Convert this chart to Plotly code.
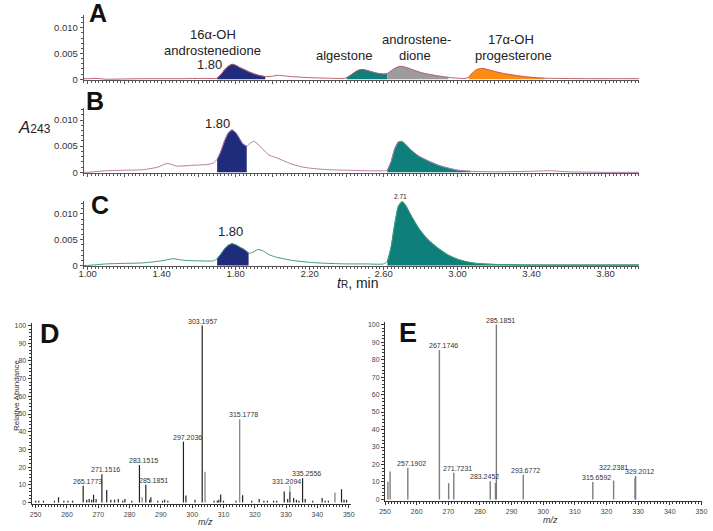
import plotly.graph_objects as go

W, H = 713, 531

# ---------------- Data: chromatograms (time in min, absorbance in units of 0.001) ----------------
tA = [0.98, 1.00, 1.05, 1.10, 1.20, 1.30, 1.40, 1.50, 1.60, 1.65, 1.70, 1.72, 1.74, 1.76, 1.78, 1.80, 1.82, 1.85,
      1.88, 1.92, 1.96, 2.00, 2.03, 2.06, 2.10, 2.15, 2.20, 2.30, 2.38, 2.40, 2.43, 2.46, 2.48, 2.50, 2.53, 2.56,
      2.60, 2.62, 2.64, 2.66, 2.69, 2.72, 2.76, 2.80, 2.85, 2.90, 2.95, 3.00, 3.04, 3.06, 3.08, 3.10, 3.13, 3.16,
      3.20, 3.25, 3.30, 3.36, 3.42, 3.47, 3.55, 3.70, 3.85, 3.98]
aA = [0.10, 0.10, 0.15, 0.00, 0.05, 0.10, 0.10, 0.10, 0.15, 0.15, 0.20, 0.90, 1.80, 2.50, 2.90, 2.70, 2.30, 1.80,
      1.30, 0.80, 0.50, 0.60, 0.75, 0.65, 0.50, 0.40, 0.30, 0.20, 0.15, 0.30, 1.00, 1.70, 1.90, 1.80, 1.50, 1.20,
      1.00, 1.10, 1.60, 2.10, 2.50, 2.30, 1.80, 1.30, 0.90, 0.60, 0.35, 0.20, 0.15, 0.40, 1.20, 1.80, 2.10, 1.90,
      1.50, 1.10, 0.80, 0.50, 0.30, 0.20, 0.15, 0.10, 0.10, 0.10]

tB = [0.98, 1.00, 1.10, 1.20, 1.30, 1.38, 1.43, 1.48, 1.55, 1.60, 1.65, 1.68, 1.70, 1.72, 1.74, 1.76, 1.78, 1.80,
      1.82, 1.84, 1.86, 1.88, 1.90, 1.92, 1.95, 1.98, 2.02, 2.06, 2.10, 2.15, 2.20, 2.30, 2.40, 2.50, 2.60, 2.62,
      2.64, 2.66, 2.68, 2.70, 2.72, 2.75, 2.79, 2.84, 2.90, 2.95, 3.00, 3.07, 3.20, 3.40, 3.50, 3.60, 3.80, 3.98]
aB = [0.00, 0.00, 0.30, 0.40, 0.50, 1.00, 1.70, 1.20, 1.30, 1.40, 1.50, 1.80, 2.50, 4.00, 6.00, 7.50, 8.10, 7.60,
      6.50, 5.40, 5.00, 5.60, 5.90, 5.40, 4.30, 3.30, 2.80, 2.20, 1.60, 1.10, 0.80, 0.50, 0.40, 0.30, 0.30, 0.40,
      2.00, 4.50, 5.80, 5.90, 5.30, 4.20, 3.10, 2.20, 1.30, 0.80, 0.40, 0.20, 0.10, 0.20, 0.30, 0.10, 0.00, 0.00]

tC = [0.98, 1.00, 1.10, 1.20, 1.30, 1.40, 1.46, 1.52, 1.60, 1.68, 1.70, 1.72, 1.74, 1.76, 1.78, 1.80, 1.82, 1.85,
      1.87, 1.89, 1.92, 1.95, 1.98, 2.02, 2.06, 2.10, 2.20, 2.30, 2.40, 2.50, 2.60, 2.62, 2.64, 2.66, 2.68, 2.70,
      2.72, 2.75, 2.79, 2.84, 2.90, 2.95, 3.00, 3.05, 3.10, 3.20, 3.40, 3.98]
aC = [0.00, 0.00, 0.30, 0.40, 0.50, 0.90, 1.30, 1.00, 0.90, 0.90, 1.30, 2.20, 3.20, 3.90, 4.20, 4.00, 3.60, 3.00,
      2.40, 2.50, 3.10, 2.80, 2.10, 1.60, 1.30, 1.00, 0.60, 0.40, 0.30, 0.30, 0.30, 0.80, 3.50, 8.00, 11.50, 12.40,
      11.60, 9.60, 7.20, 5.00, 3.20, 2.00, 1.20, 0.70, 0.40, 0.20, 0.10, 0.10]

# filled peak windows (start, end) and names
peaksA = [("16α-OH androstenedione", 1.70, 1.96), ("algestone", 2.40, 2.62),
          ("androstenedione", 2.62, 2.95), ("17α-OH progesterone", 3.05, 3.47)]
peaksB = [("16α-OH androstenedione", 1.70, 1.86), ("algestone", 2.62, 3.07)]
peaksC = [("16α-OH androstenedione", 1.69, 1.87), ("algestone", 2.61, 3.98)]

chrom_ticks = [1.00, 1.40, 1.80, 2.20, 2.60, 3.00, 3.40, 3.80]

# ---------------- Data: mass spectra ----------------
D_dark_mz = [250.0, 251.0, 252.5, 256.0, 257.3, 259.0, 260.3, 261.8, 265.1773, 266.3, 267.1, 267.9, 268.5, 269.3,
             271.1516, 272.7, 274.0, 275.2, 276.4, 277.8, 278.5, 280.7, 283.1515, 285.1851, 286.4, 286.8,
             289.0, 290.5, 291.2, 292.2, 297.2036, 298.0, 300.9, 303.1957, 307.0, 308.0, 308.5, 309.1, 310.0,
             314.0, 316.1, 319.0, 321.4, 322.9, 324.0, 326.0, 327.0, 329.4, 330.5, 331.2094, 332.4, 333.3, 334.1,
             335.2556, 336.1, 338.5, 341.5, 342.5, 343.5, 347.7, 348.5, 349.3]
D_dark_int = [1.0, 1.0, 1.0, 1.0, 3.0, 1.0, 1.0, 1.0, 9.5, 1.5, 2.0, 1.5, 4.3, 2.0,
              16.0, 7.1, 1.5, 1.5, 2.0, 1.0, 2.0, 1.0, 21.2, 10.0, 1.5, 3.0,
              1.0, 1.0, 1.5, 1.0, 34.3, 3.9, 1.5, 100.0, 1.0, 1.0, 1.5, 4.5, 1.0,
              1.0, 4.0, 1.0, 2.0, 1.0, 1.0, 1.0, 1.0, 6.2, 2.0, 6.2, 2.5, 1.5, 1.0,
              13.7, 2.0, 1.0, 2.5, 1.0, 1.0, 7.5, 1.5, 1.5]
D_grey_mz = [284.0, 304.1, 315.1778, 345.6]
D_grey_int = [3.0, 17.4, 47.0, 5.6]
D_green_mz = [331.2094]
D_green_lo = [6.2]
D_green_hi = [9.5]
D_labels_mz = [265.1773, 271.1516, 283.1515, 285.1851, 297.2036, 303.1957, 315.1778, 331.2094, 335.2556]
D_labels_int = [9.5, 16.0, 21.2, 10.0, 34.3, 100.0, 47.0, 9.5, 13.7]

E_mz = [250.9, 251.6, 257.1902, 267.1746, 270.1, 271.7231, 283.2452, 284.9, 285.1851, 293.6772,
        315.6592, 322.2381, 329.0, 329.2012]
E_int = [10.2, 16.0, 18.2, 85.4, 9.3, 15.3, 10.4, 9.5, 100.0, 14.2, 10.0, 10.8, 12.5, 13.4]
E_labels_mz = [257.1902, 267.1746, 271.7231, 283.2452, 285.1851, 293.6772, 315.6592, 322.2381, 329.2012]
E_labels_int = [18.2, 85.4, 15.3, 10.4, 100.0, 14.2, 10.0, 10.8, 13.4]

# ---------------- Styles ----------------
NAVY = "#1f2b7b"
TEAL = "#0f7f7c"
GREY = "#9c9c9c"
ORANGE = "#ff8a12"
LINE_A = "#b8606c"
LINE_B = "#b67aa6"
LINE_C = "#3d9c72"
AXC = "#555555"
FONT = "Liberation Sans, Arial, sans-serif"
# label pixel nudges (x, y) for spectrum peak labels, default (4, 0)
D_label_nudge = {285.1851: (8, 0), 303.1957: (0, 0), 331.2094: (-3, 0)}
E_label_nudge = {283.2452: (-6, 0), 293.6772: (2, 0), 322.2381: (0, 9)}


def px(x):
    return x / W


def py(y):
    return 1 - y / H


fig = go.Figure()


def chrom(t, a, peaks, colors, line_color, xa, ya):
    y = [v / 1000.0 for v in a]
    for (name, t0, t1), col in zip(peaks, colors):
        xs = [ti for ti in t if t0 <= ti <= t1]
        ys = [yi for ti, yi in zip(t, y) if t0 <= ti <= t1]
        fig.add_trace(go.Scatter(x=xs, y=ys, mode="lines", fill="tozeroy", fillcolor=col,
                                 line=dict(color=col, width=0.8, shape="spline", smoothing=0.6),
                                 xaxis=xa, yaxis=ya, showlegend=False, hoverinfo="skip"))
    fig.add_trace(go.Scatter(x=t, y=y, mode="lines",
                             line=dict(color=line_color, width=1, shape="spline", smoothing=0.6),
                             xaxis=xa, yaxis=ya, showlegend=False))


chrom(tA, aA, peaksA, [NAVY, TEAL, GREY, ORANGE], LINE_A, "x", "y")
chrom(tB, aB, peaksB, [NAVY, TEAL], LINE_B, "x2", "y2")
chrom(tC, aC, peaksC, [NAVY, TEAL], LINE_C, "x3", "y3")


def sticks(mz, lo, hi, color, xa, ya, width=1.2):
    xs, ys = [], []
    for m, l, h in zip(mz, lo, hi):
        xs += [m, m, None]
        ys += [l, h, None]
    fig.add_trace(go.Scatter(x=xs, y=ys, mode="lines", line=dict(color=color, width=width),
                             xaxis=xa, yaxis=ya, showlegend=False, hoverinfo="skip"))


sticks(D_dark_mz, [0] * len(D_dark_mz), D_dark_int, "#222222", "x4", "y4")
sticks(D_grey_mz, [0] * len(D_grey_mz), D_grey_int, "#7a7a7a", "x4", "y4")
sticks(D_green_mz, D_green_lo, D_green_hi, "#66c27a", "x4", "y4")
sticks(E_mz, [0] * len(E_mz), E_int, "#7d7d7d", "x5", "y5", width=1.4)

# ---------------- Axes ----------------
chrom_x = dict(range=[0.979, 3.981], showline=True, linecolor=AXC, linewidth=1, showgrid=False, zeroline=False,
               ticks="outside", ticklen=3, tickcolor=AXC, tick0=1.0, dtick=0.2,
               minor=dict(ticks="outside", ticklen=2, tickcolor=AXC, tickmode="linear", tick0=1.0, dtick=0.02),
               tickfont=dict(family=FONT, size=9.5, color="#333"), ticklabelstandoff=-5)
chrom_y = dict(showline=True, linecolor=AXC, linewidth=1, showgrid=False, zeroline=False,
               ticks="outside", ticklen=3, tickcolor=AXC,
               tickvals=[0, 0.005, 0.010], ticktext=["0", "0.005", "0.010"],
               minor=dict(ticks="outside", ticklen=2, tickcolor=AXC, tickmode="linear", tick0=0, dtick=0.001),
               tickfont=dict(family=FONT, size=9.5, color="#333"))

xd = [px(79), px(643)]
layout = dict(
    width=W, height=H, margin=dict(l=0, r=0, t=0, b=0),
    paper_bgcolor="white", plot_bgcolor="rgba(0,0,0,0)",
    xaxis=dict(chrom_x, domain=xd, anchor="y", showticklabels=False),
    yaxis=dict(chrom_y, domain=[py(80), py(14)], anchor="x", range=[-0.0002, 0.0125]),
    xaxis2=dict(chrom_x, domain=xd, anchor="y2", showticklabels=False),
    yaxis2=dict(chrom_y, domain=[py(174), py(108)], anchor="x2", range=[-0.0002, 0.0123]),
    xaxis3=dict(chrom_x, domain=xd, anchor="y3", showticklabels=True,
                tickvals=chrom_ticks, ticktext=["%.2f" % v for v in chrom_ticks]),
    yaxis3=dict(chrom_y, domain=[py(268), py(202)], anchor="x3", range=[-0.0002, 0.0125]),
)

ms_x = dict(showline=True, linecolor="#333", linewidth=1, showgrid=False, zeroline=False,
            ticks="outside", ticklen=3, tickcolor="#333", tick0=250, dtick=10,
            minor=dict(ticks="outside", ticklen=2, tickcolor="#333", tickmode="linear", tick0=250, dtick=1),
            tickfont=dict(family=FONT, size=7, color="#444"))
ms_y = dict(showline=True, linecolor="#333", linewidth=1, showgrid=False, zeroline=False,
            ticks="outside", ticklen=3, tickcolor="#333", tick0=0, dtick=10,
            minor=dict(ticks="outside", ticklen=2, tickcolor="#333", tickmode="linear", tick0=0, dtick=2),
            tickfont=dict(family=FONT, size=7, color="#444"))
layout.update(
    xaxis4=dict(ms_x, domain=[px(26), px(350)], anchor="y4", range=[248.7, 350.6]),
    yaxis4=dict(ms_y, domain=[py(508), py(325)], anchor="x4", range=[-1, 101.5]),
    xaxis5=dict(ms_x, domain=[px(385), px(707)], anchor="y5", range=[250, 350.2]),
    yaxis5=dict(ms_y, domain=[py(505), py(324)], anchor="x5", range=[-1, 101.5]),
)
fig.update_layout(**layout)

# ---------------- Annotations ----------------
ann = []


def text(x, y, s, size=12, bold=False, italic=False, color="#222", xanchor="center", yanchor="middle", angle=0):
    if bold:
        s = "<b>" + s + "</b>"
    if italic:
        s = "<i>" + s + "</i>"
    ann.append(dict(x=px(x), y=py(y), xref="paper", yref="paper", text=s, showarrow=False,
                    xanchor=xanchor, yanchor=yanchor, textangle=angle,
                    font=dict(family=FONT, size=size, color=color)))


text(93, 12, "A", size=25, bold=True, color="#111")
text(90, 101, "B", size=25, bold=True, color="#111")
text(95, 206, "C", size=25, bold=True, color="#111")
text(45, 336, "D", size=27, bold=True, color="#111")
text(408, 335, "E", size=27, bold=True, color="#111")

text(210, 34, "16α-OH", size=13)
text(210, 50, "androstenedione", size=13)
text(207, 64, "1.80", size=13)
text(343, 55, "algestone", size=13)
text(417, 39, "androstene-", size=13)
text(415, 55, "dione", size=13)
text(513, 39, "17α-OH", size=13)
text(515, 55, "progesterone", size=13)
text(215, 124, "1.80", size=13)
text(228, 233, "1.80", size=13)
text(401, 197, "2.71", size=6.5)
text(29, 128, "<i>A</i><span style='font-size:12px'>243</span>", size=17)
text(357, 285, "<i>t</i><span style='font-size:10px'>R</span>, min", size=14)

text(10, 398, "Relative Abundance", size=8, color="#333", angle=-90)
text(203, 526, "m/z", size=9, italic=True, color="#333")
text(553, 524, "m/z", size=9, italic=True, color="#333")

for labels, ints, nudge, xa, ya in ((D_labels_mz, D_labels_int, D_label_nudge, "x4", "y4"),
                                    (E_labels_mz, E_labels_int, E_label_nudge, "x5", "y5")):
    for m, v in zip(labels, ints):
        dx, dy = nudge.get(m, (4, 0))
        ann.append(dict(x=m, y=v, xref=xa, yref=ya, text="%.4f" % m, showarrow=False,
                        xanchor="center", yanchor="bottom", xshift=dx, yshift=dy - 1,
                        font=dict(family=FONT, size=7, color="#333")))

fig.update_layout(annotations=ann)
fig.write_html("out.html", config={"displayModeBar": False},
               post_script="document.body.style.margin='0';document.body.style.overflow='hidden';")
